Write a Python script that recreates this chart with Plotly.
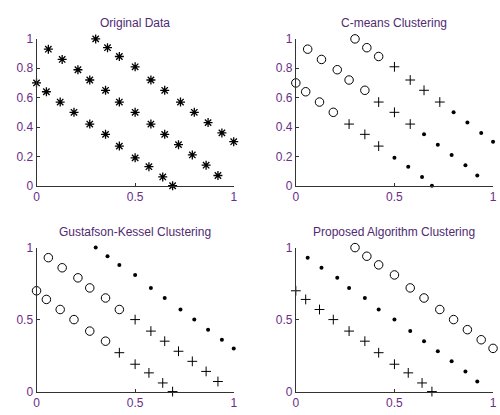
import plotly.graph_objects as go

# Three diagonal point strips (x, y)
line1_x = [0.30, 0.36, 0.42, 0.50, 0.58, 0.65, 0.73, 0.80, 0.87, 0.94, 1.00]
line1_y = [1.00, 0.94, 0.88, 0.81, 0.72, 0.65, 0.57, 0.50, 0.43, 0.36, 0.30]
line2_x = [0.06, 0.13, 0.21, 0.27, 0.35, 0.42, 0.50, 0.58, 0.65, 0.72, 0.79, 0.86, 0.92]
line2_y = [0.93, 0.86, 0.79, 0.72, 0.65, 0.57, 0.50, 0.42, 0.35, 0.28, 0.21, 0.14, 0.07]
line3_x = [0.00, 0.05, 0.12, 0.19, 0.27, 0.35, 0.42, 0.50, 0.57, 0.64, 0.69]
line3_y = [0.70, 0.64, 0.57, 0.50, 0.42, 0.35, 0.27, 0.19, 0.13, 0.06, 0.00]

# Cluster membership per strip: "o" circle, "+" plus, "." dot
cmeans_1 = ["o"] * 3 + ["+"] * 4 + ["."] * 4
cmeans_2 = ["o"] * 5 + ["+"] * 3 + ["."] * 5
cmeans_3 = ["o"] * 4 + ["+"] * 3 + ["."] * 4
gk_1 = ["."] * 11
gk_2 = ["o"] * 6 + ["+"] * 7
gk_3 = ["o"] * 6 + ["+"] * 5
prop_1 = ["o"] * 11
prop_2 = ["."] * 13
prop_3 = ["+"] * 11

titles = ["Original Data", "C-means Clustering",
          "Gustafson-Kessel Clustering", "Proposed Algorithm Clustering"]
top_yticks = [0, 0.2, 0.4, 0.6, 0.8, 1]
top_yticklabels = ["0", "0.2", "0.4", "0.6", "0.8", "1"]
bottom_yticks = [0, 0.5, 1]
bottom_yticklabels = ["0", "0.5", "1"]
xticks = [0, 0.5, 1]
xticklabels = ["0", "0.5", "1"]

all_x = line1_x + line2_x + line3_x
all_y = line1_y + line2_y + line3_y

styles = {
    "o": dict(symbol="circle-open", size=8.5, color="black", line=dict(width=1, color="black")),
    "+": dict(symbol="cross-thin-open", size=7, color="black", line=dict(width=1, color="black")),
    ".": dict(symbol="circle", size=4, color="black", line=dict(width=0)),
}

fig = go.Figure()

# Panel 1: raw data as asterisks
fig.add_trace(go.Scatter(
    x=all_x, y=all_y, mode="markers", xaxis="x", yaxis="y",
    marker=dict(symbol="asterisk-open", size=7.5, color="black",
                line=dict(width=1.3, color="black")),
    cliponaxis=False, showlegend=False, hoverinfo="skip"))

panels = [
    ("x2", "y2", cmeans_1 + cmeans_2 + cmeans_3),
    ("x3", "y3", gk_1 + gk_2 + gk_3),
    ("x4", "y4", prop_1 + prop_2 + prop_3),
]
for xa, ya, labels in panels:
    for key in ["o", "+", "."]:
        xs = [x for x, l in zip(all_x, labels) if l == key]
        ys = [y for y, l in zip(all_y, labels) if l == key]
        if not xs:
            continue
        fig.add_trace(go.Scatter(
            x=xs, y=ys, mode="markers", xaxis=xa, yaxis=ya,
            marker=styles[key], cliponaxis=False,
            showlegend=False, hoverinfo="skip"))

W, H = 500, 415
left_dom = [34 / W, 234 / W]
right_dom = [297 / W, 497 / W]
top_dom = [1 - 185 / H, 1 - 33 / H]
bot_dom = [1 - 398 / H, 1 - 249 / H]

tick_font = dict(family="Liberation Sans, Arial, sans-serif", size=12, color="#6a2c88")
axis_common = dict(
    range=[0, 1], showgrid=False, zeroline=False, showline=True,
    linecolor="#333333", linewidth=1, ticks="inside", ticklen=3,
    tickwidth=1, tickcolor="#333333", tickfont=tick_font, fixedrange=True,
)

def xaxis(dom, anchor):
    return dict(axis_common, domain=dom, anchor=anchor,
                tickvals=xticks, ticktext=xticklabels)

def yaxis(dom, anchor, vals, text):
    return dict(axis_common, domain=dom, anchor=anchor,
                tickvals=vals, ticktext=text)

fig.update_layout(
    width=W, height=H,
    margin=dict(l=0, r=0, t=0, b=0),
    paper_bgcolor="white", plot_bgcolor="white",
    xaxis=xaxis(left_dom, "y"),
    yaxis=yaxis(top_dom, "x", top_yticks, top_yticklabels),
    xaxis2=xaxis(right_dom, "y2"),
    yaxis2=yaxis(top_dom, "x2", top_yticks, top_yticklabels),
    xaxis3=xaxis(left_dom, "y3"),
    yaxis3=yaxis(bot_dom, "x3", bottom_yticks, bottom_yticklabels),
    xaxis4=xaxis(right_dom, "y4"),
    yaxis4=yaxis(bot_dom, "x4", bottom_yticks, bottom_yticklabels),
)

title_pos = [
    ((left_dom[0] + left_dom[1]) / 2, 1 - 17 / H),
    ((right_dom[0] + right_dom[1]) / 2, 1 - 17 / H),
    ((left_dom[0] + left_dom[1]) / 2, 1 - 233 / H),
    ((right_dom[0] + right_dom[1]) / 2, 1 - 233 / H),
]
for text, (tx, ty) in zip(titles, title_pos):
    fig.add_annotation(
        text=text, x=tx, y=ty, xref="paper", yref="paper",
        xanchor="center", yanchor="middle", showarrow=False,
        font=dict(family="Liberation Sans, Arial, sans-serif", size=12, color="#502a72"))

fig.write_html("out.html")
